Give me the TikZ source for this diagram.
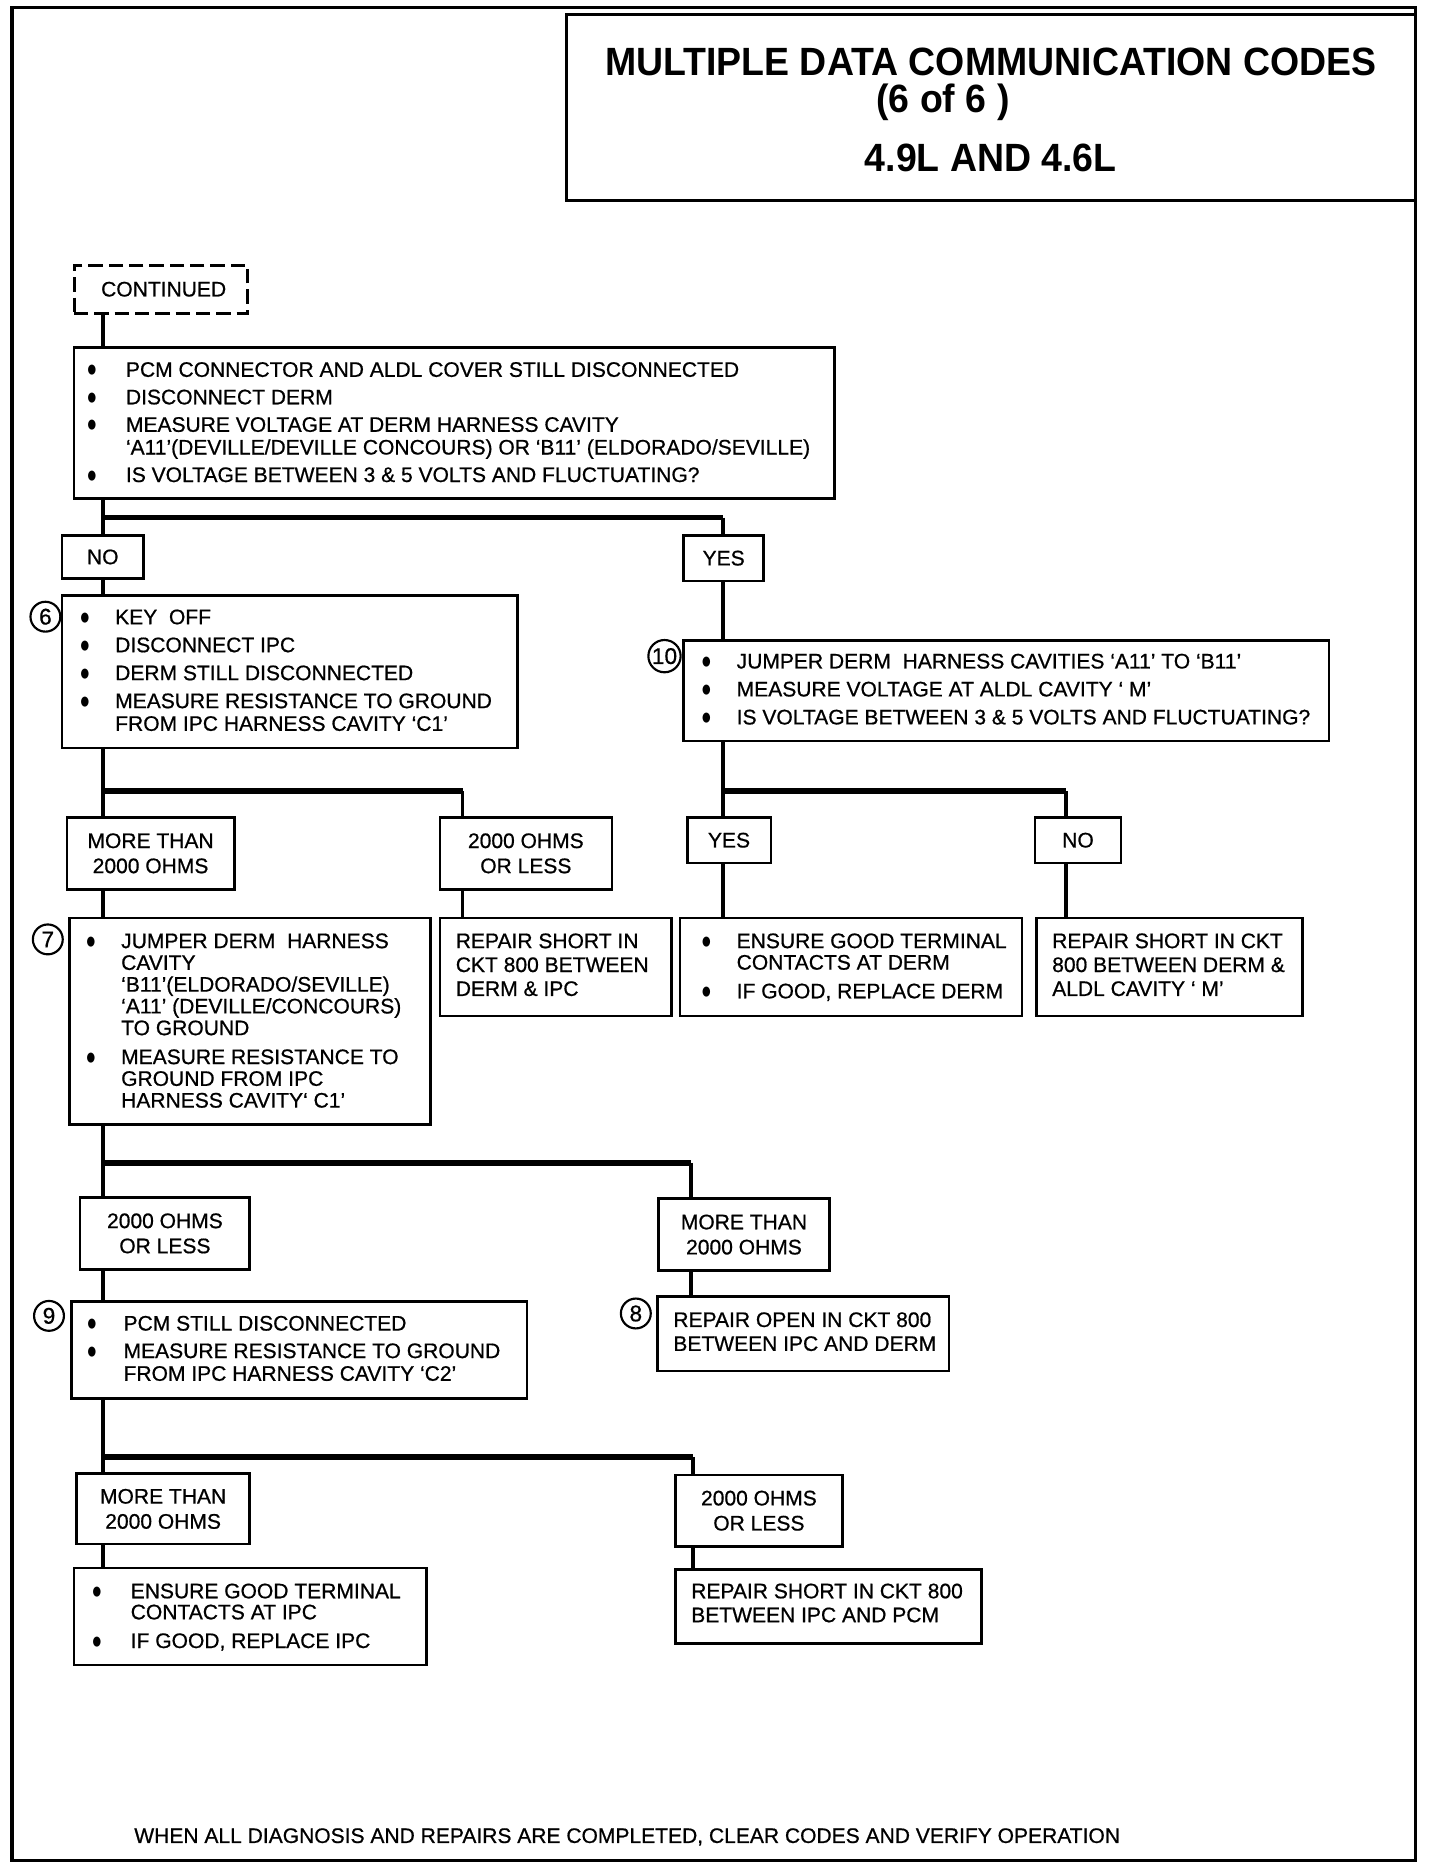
\documentclass[tikz,border=0pt]{standalone}
\usepackage{fontspec}
\usepackage{graphicx}
\setmainfont{Liberation Sans}[UprightFeatures={FakeBold=0.7}]
\newfontfamily\titlefont[FakeStretch=0.95]{Liberation Sans}
\newfontfamily\dejavu{DejaVu Sans}
\usetikzlibrary{fit}
\newcommand\bxx[5]{\node[box, fit={(#2,#3) (#4,#5)}] (#1) {};}
\newcommand\lbx[6]{\node[lbox, minimum width={(#4-#2)*0.5pt}, minimum height={(#5-#3)*0.5pt}] (#1) at ({(#2+#4)/2},{(#3+#5)/2}) {#6};}
\newcommand\bul{\raisebox{1.2pt}{\dejavu\fontsize{5.5}{6}\selectfont\scalebox{0.75}[1]{●}}}
\begin{document}
\begin{tikzpicture}[x=0.5pt,y=-0.5pt,
  box/.style={draw, line width=1.1pt, inner sep=0pt, outer sep=0pt},
  lbox/.style={draw, line width=1.1pt, inner sep=0pt, outer sep=0pt, align=center,
     font=\fontsize{8.8}{10.5}\selectfont},
  txt/.style={inner sep=0pt, anchor=base west},
  circ/.style={draw, circle, line width=0.9pt, minimum size=12.5pt, inner sep=0pt,
     font=\fontsize{9.5}{10}\selectfont},
  vl/.style={line width=1.5pt},
  hb/.style={line width=2.3pt},
  ttl/.style={inner sep=0pt, font=\titlefont\bfseries\fontsize{16.5}{20}\selectfont}]
\useasboundingbox (0,0) rectangle (1205,1568);
% outer frame
\draw[line width=1.3pt] (10,6) rectangle (1184,1557);
% title
\node[box, line width=1.3pt, fit={(474,12) (1184,168)}] (title) {};
\node[ttl] (t1) at (829,52) {MULTIPLE DATA COMMUNICATION CODES};
\node[ttl] (t2) at (789,86) {(6 of 6 )};
\node[ttl] (t3) at (829,132) {4.9L AND 4.6L};
% continued
\node[draw, line width=1.2pt, dash pattern=on 6pt off 2.5pt, inner sep=0pt, outer sep=0pt,
  minimum width=72.5pt, minimum height=20pt, font=\fontsize{8.8}{10}\selectfont]
  (CONT) at (134.5,242) {~CONTINUED};
% box A
\bxx{A}{62}{291}{698}{417}
\node[txt, font=\fontsize{8.8}{9.5}\selectfont] (At) at (73,315.3) {\begin{tabular}[t]{@{}p{16pt}@{}l@{}}
\bul & PCM CONNECTOR AND ALDL COVER STILL DISCONNECTED\\[2pt]
\bul & DISCONNECT DERM\\[2pt]
\bul & MEASURE VOLTAGE AT DERM HARNESS CAVITY\\
  & ‘A11’(DEVILLE/DEVILLE CONCOURS) OR ‘B11’ (ELDORADO/SEVILLE)\\[2pt]
\bul & IS VOLTAGE BETWEEN 3 \& 5 VOLTS AND FLUCTUATING?
\end{tabular}};
\lbx{NO}{52}{448}{120}{484}{NO}
\lbx{YES}{572}{448}{639}{486}{YES}
% box 6
\bxx{B6}{52}{498}{433}{626}
\node[circ] (c6) at (38,516) {6};
\node[txt, font=\fontsize{8.8}{9.5}\selectfont] (B6t) at (67,522.3) {\begin{tabular}[t]{@{}p{14.5pt}@{}l@{}}
\bul & KEY~ OFF\\[2.2pt]
\bul & DISCONNECT IPC\\[2.2pt]
\bul & DERM STILL DISCONNECTED\\[2.2pt]
\bul & MEASURE RESISTANCE TO GROUND\\
  & FROM IPC HARNESS CAVITY ‘C1’
\end{tabular}};
% box 10
\bxx{B10}{572}{536}{1112}{620}
\node[circ, minimum size=13.5pt] (c10) at (556,549) {10};
\node[txt, font=\fontsize{8.8}{9.5}\selectfont] (B10t) at (587,559.3) {\begin{tabular}[t]{@{}p{14.5pt}@{}l@{}}
\bul & JUMPER DERM~ HARNESS CAVITIES ‘A11’ TO ‘B11’\\[2.2pt]
\bul & MEASURE VOLTAGE AT ALDL CAVITY ‘ M’\\[2.2pt]
\bul & IS VOLTAGE BETWEEN 3 \& 5 VOLTS AND FLUCTUATING?
\end{tabular}};
% second level labels
\lbx{M1}{56}{684}{196}{744}{MORE THAN\\2000 OHMS}
\lbx{L1}{368}{684}{512}{744}{2000 OHMS\\OR LESS}
\lbx{YES2}{575}{684}{645}{722}{YES}
\lbx{NO2}{866}{684}{938}{722}{NO}
% box 7
\bxx{B7}{58}{768}{360}{941}
\node[circ] (c7) at (40,786) {7};
\node[txt, font=\fontsize{8.8}{9.1}\selectfont] (B7t) at (72,793.3) {\begin{tabular}[t]{@{}p{14.5pt}@{}l@{}}
\bul & JUMPER DERM~ HARNESS\\
  & CAVITY\\
  & ‘B11’(ELDORADO/SEVILLE)\\
  & ‘A11’ (DEVILLE/CONCOURS)\\
  & TO GROUND\\[3pt]
\bul & MEASURE RESISTANCE TO\\
  & GROUND FROM IPC\\
  & HARNESS CAVITY‘ C1’
\end{tabular}};
% R1
\bxx{R1}{368}{768}{562}{850}
\node[txt, font=\fontsize{8.8}{10}\selectfont] (R1t) at (381,793.3) {\begin{tabular}[t]{@{}l@{}}
REPAIR SHORT IN\\ CKT 800 BETWEEN\\ DERM \& IPC\end{tabular}};
% R2
\bxx{R2}{569}{768}{855}{850}
\node[txt, font=\fontsize{8.8}{9}\selectfont] (R2t) at (587,793.3) {\begin{tabular}[t]{@{}p{14.5pt}@{}l@{}}
\bul & ENSURE GOOD TERMINAL\\
  & CONTACTS AT DERM\\[3pt]
\bul & IF GOOD, REPLACE DERM
\end{tabular}};
% R3
\bxx{R3}{867}{768}{1090}{850}
\node[txt, font=\fontsize{8.8}{10}\selectfont] (R3t) at (880,793.3) {\begin{tabular}[t]{@{}l@{}}
REPAIR SHORT IN CKT\\ 800 BETWEEN DERM \&\\ ALDL CAVITY ‘ M’\end{tabular}};
% third level labels
\lbx{L2}{67}{1002}{209}{1062}{2000 OHMS\\OR LESS}
\lbx{M2}{551}{1003}{694}{1063}{MORE THAN\\2000 OHMS}
% box 9
\bxx{B9}{60}{1089}{441}{1170}
\node[circ] (c9) at (41,1101) {9};
\node[txt, font=\fontsize{8.8}{9.5}\selectfont] (B9t) at (73,1113.3) {\begin{tabular}[t]{@{}p{15pt}@{}l@{}}
\bul & PCM STILL DISCONNECTED\\[2pt]
\bul & MEASURE RESISTANCE TO GROUND\\
  & FROM IPC HARNESS CAVITY ‘C2’
\end{tabular}};
% box 8
\bxx{B8}{550}{1085}{794}{1147}
\node[circ] (c8) at (532,1099) {8};
\node[txt, font=\fontsize{8.8}{10}\selectfont] (B8t) at (563,1110.3) {\begin{tabular}[t]{@{}l@{}}
REPAIR OPEN IN CKT 800\\ BETWEEN IPC AND DERM\end{tabular}};
% fourth level labels
\lbx{M3}{64}{1233}{209}{1292}{MORE THAN\\2000 OHMS}
\lbx{L3}{565}{1234}{705}{1294}{2000 OHMS\\OR LESS}
% R4
\bxx{R4}{62}{1312}{357}{1393}
\node[txt, font=\fontsize{8.8}{8.8}\selectfont] (R4t) at (77,1337.3) {\begin{tabular}[t]{@{}p{16pt}@{}l@{}}
\bul & ENSURE GOOD TERMINAL\\
  & CONTACTS AT IPC\\[3.2pt]
\bul & IF GOOD, REPLACE IPC
\end{tabular}};
% R5
\bxx{R5}{565}{1313}{821}{1375}
\node[txt, font=\fontsize{8.8}{10}\selectfont] (R5t) at (578,1337.3) {\begin{tabular}[t]{@{}l@{}}
REPAIR SHORT IN CKT 800\\ BETWEEN IPC AND PCM\end{tabular}};
% footer
\node[txt, font=\fontsize{8.8}{10}\selectfont] (foot) at (112,1542) {WHEN ALL DIAGNOSIS AND REPAIRS ARE COMPLETED, CLEAR CODES AND VERIFY OPERATION};
% junctions
\coordinate (j1) at (86,433);   \coordinate (j1r) at (605,433);
\coordinate (j2) at (86,662);   \coordinate (j2r) at (387,662);
\coordinate (j3) at (605,662);  \coordinate (j3r) at (892,662);
\coordinate (j4) at (86,973);   \coordinate (j4r) at (578,973);
\coordinate (j5) at (86,1219);  \coordinate (j5r) at (580,1219);
% connectors
\draw[vl] (CONT.south -| j1) -- (A.north -| j1);
\draw[vl] (A.south -| j1) -- (NO.north -| j1);
\draw[hb] (j1) -- (j1r);
\draw[vl] (j1r) -- (YES.north -| j1r);
\draw[vl] (NO.south -| j1) -- (B6.north -| j1);
\draw[vl] (YES.south -| j1r) -- (B10.north -| j1r);
\draw[vl] (B6.south -| j2) -- (M1.north -| j2);
\draw[hb] (j2) -- (j2r);
\draw[vl] (j2r) -- (L1.north -| j2r);
\draw[vl] (B10.south -| j3) -- (YES2.north -| j3);
\draw[hb] (j3) -- (j3r);
\draw[vl] (j3r) -- (NO2.north -| j3r);
\draw[vl] (M1.south -| j2) -- (B7.north -| j2);
\draw[vl] (L1.south -| j2r) -- (R1.north -| j2r);
\draw[vl] (YES2.south -| j3) -- (R2.north -| j3);
\draw[vl] (NO2.south -| j3r) -- (R3.north -| j3r);
\draw[vl] (B7.south -| j4) -- (L2.north -| j4);
\draw[hb] (j4) -- (j4r);
\draw[vl] (j4r) -- (M2.north -| j4r);
\draw[vl] (L2.south -| j4) -- (B9.north -| j4);
\draw[vl] (M2.south -| j4r) -- (B8.north -| j4r);
\draw[vl] (B9.south -| j5) -- (M3.north -| j5);
\draw[hb] (j5) -- (j5r);
\draw[vl] (j5r) -- (L3.north -| j5r);
\draw[vl] (M3.south -| j5) -- (R4.north -| j5);
\draw[vl] (L3.south -| j5r) -- (R5.north -| j5r);
\end{tikzpicture}
\end{document}
